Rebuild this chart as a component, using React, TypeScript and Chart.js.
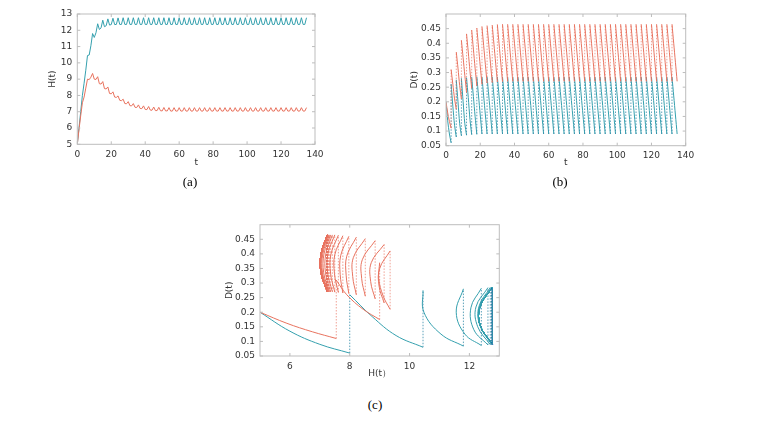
import { useEffect, useRef } from "react"
import { Chart, registerables } from "chart.js"

Chart.register(...registerables)

Chart.defaults.font.family = "DejaVu Sans"
Chart.defaults.font.size = 9
Chart.defaults.color = "#333"

const RED = "#e8735f"
const TEAL = "#35a0ae"
const RED_DOT = "rgba(232,115,95,0.75)"
const TEAL_DOT = "rgba(53,140,170,0.9)"

// impulse times (one dose every 3 time units)
const tImpulse = [
  0, 3, 6, 9, 12, 15, 18, 21, 24, 27, 30, 33, 36, 39, 42, 45, 48, 51, 54, 57, 60, 63, 66, 69,
  72, 75, 78, 81, 84, 87, 90, 93, 96, 99, 102, 105, 108, 111, 114, 117, 120, 123, 126, 129,
  132, 135,
]

// teal series. H at each dose time, then H one and two time units after each dose
const tealHImp = [
  5, 8.0, 10.45, 11.8, 12.4, 12.62, 12.7, 12.74, 12.76,
  12.77, 12.77, 12.77, 12.77, 12.77, 12.77, 12.77, 12.77, 12.77, 12.77,
  12.77, 12.77, 12.77, 12.77, 12.77, 12.77, 12.77, 12.77, 12.77, 12.77,
  12.77, 12.77, 12.77, 12.77, 12.77, 12.77, 12.77, 12.77, 12.77, 12.77,
  12.77, 12.77, 12.77, 12.77, 12.77, 12.77, 12.77,
]
const tealH1 = [
  6.0, 8.75, 10.48, 11.56, 12.05, 12.22, 12.32, 12.35,
  12.36, 12.36, 12.36, 12.36, 12.36, 12.36, 12.36, 12.36, 12.36, 12.36,
  12.36, 12.36, 12.36, 12.36, 12.36, 12.36, 12.36, 12.36, 12.36, 12.36,
  12.36, 12.36, 12.36, 12.36, 12.36, 12.36, 12.36, 12.36, 12.36, 12.36,
  12.36, 12.36, 12.36, 12.36, 12.36, 12.36, 12.36,
]
const tealH2 = [
  7.0, 9.55, 11.05, 11.85, 12.15, 12.28, 12.35, 12.36,
  12.36, 12.36, 12.36, 12.36, 12.36, 12.36, 12.36, 12.36, 12.36, 12.36,
  12.36, 12.36, 12.36, 12.36, 12.36, 12.36, 12.36, 12.36, 12.36, 12.36,
  12.36, 12.36, 12.36, 12.36, 12.36, 12.36, 12.36, 12.36, 12.36, 12.36,
  12.36, 12.36, 12.36, 12.36, 12.36, 12.36, 12.36,
]
// teal D: just after dose, one and two units later, just before next dose
const tealDHi = [
  0.2, 0.26, 0.275, 0.28, 0.282, 0.284,
  0.285, 0.285, 0.285, 0.285, 0.285, 0.285, 0.285, 0.285, 0.285, 0.285,
  0.285, 0.285, 0.285, 0.285, 0.285, 0.285, 0.285, 0.285, 0.285, 0.285,
  0.285, 0.285, 0.285, 0.285, 0.285, 0.285, 0.285, 0.285, 0.285, 0.285,
  0.285, 0.285, 0.285, 0.285, 0.285, 0.285, 0.285, 0.285, 0.285,
]
const tealD1 = [
  0.135, 0.185, 0.2, 0.2, 0.215, 0.218,
  0.22, 0.22, 0.22, 0.22, 0.22, 0.22, 0.22, 0.22, 0.22, 0.22,
  0.22, 0.22, 0.22, 0.22, 0.22, 0.22, 0.22, 0.22, 0.22, 0.22,
  0.22, 0.22, 0.22, 0.22, 0.22, 0.22, 0.22, 0.22, 0.22, 0.22,
  0.22, 0.22, 0.22, 0.22, 0.22, 0.22, 0.22, 0.22, 0.22,
]
const tealD2 = [
  0.09, 0.12, 0.125, 0.125, 0.14, 0.15,
  0.155, 0.155, 0.155, 0.155, 0.155, 0.155, 0.155, 0.155, 0.155, 0.155,
  0.155, 0.155, 0.155, 0.155, 0.155, 0.155, 0.155, 0.155, 0.155, 0.155,
  0.155, 0.155, 0.155, 0.155, 0.155, 0.155, 0.155, 0.155, 0.155, 0.155,
  0.155, 0.155, 0.155, 0.155, 0.155, 0.155, 0.155, 0.155, 0.155,
]
const tealDLo = [
  0.06, 0.08, 0.084, 0.086, 0.088, 0.089,
  0.09, 0.09, 0.09, 0.09, 0.09, 0.09, 0.09, 0.09, 0.09, 0.09,
  0.09, 0.09, 0.09, 0.09, 0.09, 0.09, 0.09, 0.09, 0.09, 0.09,
  0.09, 0.09, 0.09, 0.09, 0.09, 0.09, 0.09, 0.09, 0.09, 0.09,
  0.09, 0.09, 0.09, 0.09, 0.09, 0.09, 0.09, 0.09, 0.09,
]

// red series
const redHImp = [
  5, 7.55, 9.0, 9.35, 9.15, 8.85, 8.52, 8.22, 7.97, 7.77, 7.62, 7.5, 7.42, 7.36, 7.32, 7.29,
  7.27, 7.26,
  7.25, 7.25, 7.25, 7.25, 7.25, 7.25, 7.25, 7.25, 7.25, 7.25,
  7.25, 7.25, 7.25, 7.25, 7.25, 7.25, 7.25, 7.25, 7.25, 7.25,
  7.25, 7.25, 7.25, 7.25, 7.25, 7.25, 7.25, 7.25,
]
const redH1 = [
  5.9, 7.9, 8.97, 9.0, 8.72, 8.42, 8.12, 7.9, 7.7, 7.5, 7.37, 7.27, 7.2, 7.14, 7.1, 7.07,
  7.06, 7.05,
  7.04, 7.04, 7.04, 7.04, 7.04, 7.04, 7.04, 7.04, 7.04, 7.04,
  7.04, 7.04, 7.04, 7.04, 7.04, 7.04, 7.04, 7.04, 7.04, 7.04,
  7.04, 7.04, 7.04, 7.04, 7.04, 7.04, 7.04,
]
const redH2 = [
  6.75, 8.45, 9.12, 8.98, 8.7, 8.4, 8.1, 7.88, 7.68, 7.49, 7.36, 7.26, 7.19, 7.13, 7.09, 7.07,
  7.05, 7.05,
  7.04, 7.04, 7.04, 7.04, 7.04, 7.04, 7.04, 7.04, 7.04, 7.04,
  7.04, 7.04, 7.04, 7.04, 7.04, 7.04, 7.04, 7.04, 7.04, 7.04,
  7.04, 7.04, 7.04, 7.04, 7.04, 7.04, 7.04,
]
const redDHi = [
  0.2, 0.31, 0.37, 0.41, 0.432, 0.445, 0.452, 0.457, 0.46, 0.462, 0.464,
  0.465, 0.465, 0.465, 0.465, 0.465, 0.465, 0.465, 0.465, 0.465, 0.465,
  0.465, 0.465, 0.465, 0.465, 0.465, 0.465, 0.465, 0.465, 0.465, 0.465,
  0.465, 0.465, 0.465, 0.465, 0.465, 0.465, 0.465, 0.465, 0.465, 0.465,
  0.465, 0.465, 0.465, 0.465,
]
const redD1 = [
  0.162, 0.26, 0.315, 0.35, 0.37, 0.38, 0.387, 0.392, 0.395, 0.397, 0.398,
  0.4, 0.4, 0.4, 0.4, 0.4, 0.4, 0.4, 0.4, 0.4, 0.4,
  0.4, 0.4, 0.4, 0.4, 0.4, 0.4, 0.4, 0.4, 0.4, 0.4,
  0.4, 0.4, 0.4, 0.4, 0.4, 0.4, 0.4, 0.4, 0.4, 0.4,
  0.4, 0.4, 0.4, 0.4,
]
const redD2 = [
  0.133, 0.21, 0.255, 0.29, 0.305, 0.315, 0.322, 0.327, 0.33, 0.332, 0.333,
  0.335, 0.335, 0.335, 0.335, 0.335, 0.335, 0.335, 0.335, 0.335, 0.335,
  0.335, 0.335, 0.335, 0.335, 0.335, 0.335, 0.335, 0.335, 0.335, 0.335,
  0.335, 0.335, 0.335, 0.335, 0.335, 0.335, 0.335, 0.335, 0.335, 0.335,
  0.335, 0.335, 0.335, 0.335,
]
const redDLo = [
  0.11, 0.175, 0.21, 0.232, 0.246, 0.255, 0.26, 0.264, 0.266, 0.268, 0.269,
  0.27, 0.27, 0.27, 0.27, 0.27, 0.27, 0.27, 0.27, 0.27, 0.27,
  0.27, 0.27, 0.27, 0.27, 0.27, 0.27, 0.27, 0.27, 0.27, 0.27,
  0.27, 0.27, 0.27, 0.27, 0.27, 0.27, 0.27, 0.27, 0.27, 0.27,
  0.27, 0.27, 0.27, 0.27,
]

const timeTicks = [0, 20, 40, 60, 80, 100, 120, 140]
const hTicks = [5, 6, 7, 8, 9, 10, 11, 12, 13]
const dTicks = [0.05, 0.1, 0.15, 0.2, 0.25, 0.3, 0.35, 0.4, 0.45]
const phaseHTicks = [6, 8, 10, 12]

type Pt = { x: number; y: number | null }

// sample times inside period k: dose, +1/3, +2/3, next dose
const periodTimes = (k: number) => {
  const a = tImpulse[k]
  const b = tImpulse[k + 1]
  return [a, a + (b - a) / 3, a + (2 * (b - a)) / 3, b]
}

function hOverTime(hImp: number[], h1: number[], h2: number[]): Pt[] {
  const pts: Pt[] = []
  h1.forEach((_, k) => {
    const [a, m1, m2] = periodTimes(k)
    pts.push({ x: a, y: hImp[k] }, { x: m1, y: h1[k] }, { x: m2, y: h2[k] })
  })
  const last = h1.length
  pts.push({ x: tImpulse[last], y: hImp[last] })
  return pts
}

// decay pieces (solid) and dose jumps (dotted); xs = 4 x-values per period
function pieces(xs: (k: number) => number[], hi: number[], d1: number[], d2: number[], lo: number[]) {
  const solid: Pt[] = []
  const jumps: Pt[] = []
  hi.forEach((_, k) => {
    const [a, m1, m2, b] = xs(k)
    solid.push(
      { x: a, y: hi[k] },
      { x: m1, y: d1[k] },
      { x: m2, y: d2[k] },
      { x: b, y: lo[k] },
      { x: b, y: null }
    )
    if (k < hi.length - 1) {
      jumps.push({ x: b, y: lo[k] }, { x: b, y: hi[k + 1] }, { x: b, y: null })
    }
  })
  return { solid, jumps }
}

const boxPlugin = {
  id: "matlabBox",
  afterDraw(chart: any) {
    const { ctx, chartArea: a, scales } = chart
    ctx.save()
    ctx.strokeStyle = "#bdbdbd"
    ctx.lineWidth = 1
    ctx.strokeRect(a.left, a.top, a.right - a.left, a.bottom - a.top)
    ctx.beginPath()
    for (const t of scales.x.ticks) {
      const px = scales.x.getPixelForValue(t.value)
      ctx.moveTo(px, a.bottom)
      ctx.lineTo(px, a.bottom - 3)
      ctx.moveTo(px, a.top)
      ctx.lineTo(px, a.top + 3)
    }
    for (const t of scales.y.ticks) {
      const py = scales.y.getPixelForValue(t.value)
      ctx.moveTo(a.left, py)
      ctx.lineTo(a.left + 3, py)
      ctx.moveTo(a.right, py)
      ctx.lineTo(a.right - 3, py)
    }
    ctx.stroke()
    ctx.restore()
  },
}

type Frame = { w: number; h: number; l: number; t: number; r: number; b: number; yTitleX: number; xTitleY: number }

function makeOptions(
  f: Frame,
  xr: number[],
  yr: number[],
  xTicks: number[],
  yTicks: number[],
  xTitle: string,
  yTitle: string
): any {
  const half = 5.4
  const scaleLeft = f.yTitleX - half
  const scaleBottom = f.xTitleY + half
  return {
    animation: false,
    responsive: false,
    events: [],
    layout: { padding: { left: scaleLeft, top: f.t, right: f.w - f.r, bottom: f.h - scaleBottom } },
    plugins: { legend: { display: false }, tooltip: { enabled: false } },
    elements: { point: { radius: 0 }, line: { borderWidth: 1 } },
    scales: {
      x: {
        type: "linear",
        min: xr[0],
        max: xr[1],
        grid: { display: false, drawTicks: false },
        border: { display: false },
        ticks: { padding: 5, maxRotation: 0, callback: (v: number) => String(v) },
        afterBuildTicks: (s: any) => {
          s.ticks = xTicks.map((value) => ({ value }))
        },
        afterFit: (s: any) => {
          s.height = scaleBottom - f.b
        },
        title: { display: true, text: xTitle, padding: 0 },
      },
      y: {
        type: "linear",
        min: yr[0],
        max: yr[1],
        grid: { display: false, drawTicks: false },
        border: { display: false },
        ticks: { padding: 5, callback: (v: number) => String(v) },
        afterBuildTicks: (s: any) => {
          s.ticks = yTicks.map((value) => ({ value }))
        },
        afterFit: (s: any) => {
          s.width = f.l - scaleLeft
        },
        title: { display: true, text: yTitle, padding: 0 },
      },
    },
  }
}

const frameA: Frame = { w: 384, h: 200, l: 77.3, t: 14, r: 315, b: 144.3, yTitleX: 53, xTitleY: 163 }
const frameB: Frame = { w: 384, h: 200, l: 62, t: 14, r: 301.7, b: 145.7, yTitleX: 31, xTitleY: 163 }
const frameC: Frame = { w: 384, h: 190, l: 68, t: 19.7, r: 307.3, b: 151, yTitleX: 38, xTitleY: 169 }

function solidSet(data: Pt[], color: string, tension: number) {
  return { data, borderColor: color, borderWidth: 1, tension, fill: false, capBezierPoints: false }
}
function dotSet(data: Pt[], color: string) {
  return { data, borderColor: color, borderWidth: 0.9, borderDash: [1.5, 1.5], tension: 0, fill: false }
}

export default function App() {
  const refA = useRef<HTMLCanvasElement>(null)
  const refB = useRef<HTMLCanvasElement>(null)
  const refC = useRef<HTMLCanvasElement>(null)

  useEffect(() => {
    document.body.style.margin = "0"
    if (!refA.current || !refB.current || !refC.current) return

    const redB = pieces(periodTimes, redDHi, redD1, redD2, redDLo)
    const tealB = pieces(periodTimes, tealDHi, tealD1, tealD2, tealDLo)
    const redC = pieces(
      (k) => [redHImp[k], redH1[k], redH2[k], redHImp[k + 1]],
      redDHi, redD1, redD2, redDLo
    )
    const tealC = pieces(
      (k) => [tealHImp[k], tealH1[k], tealH2[k], tealHImp[k + 1]],
      tealDHi, tealD1, tealD2, tealDLo
    )

    const charts = [
      new Chart(refA.current, {
        type: "line",
        data: {
          datasets: [
            solidSet(hOverTime(redHImp, redH1, redH2), RED, 0),
            solidSet(hOverTime(tealHImp, tealH1, tealH2), TEAL, 0),
          ],
        },
        options: makeOptions(frameA, [0, 140], [5, 13], timeTicks, hTicks, "t", "H(t)"),
        plugins: [boxPlugin],
      } as any),
      new Chart(refB.current, {
        type: "line",
        data: {
          datasets: [
            dotSet(redB.jumps, RED_DOT),
            solidSet(redB.solid, RED, 0.3),
            dotSet(tealB.jumps, TEAL_DOT),
            solidSet(tealB.solid, TEAL, 0.3),
          ],
        },
        options: makeOptions(frameB, [0, 140], [0.05, 0.5], timeTicks, dTicks, "t", "D(t)"),
        plugins: [boxPlugin],
      } as any),
      new Chart(refC.current, {
        type: "line",
        data: {
          datasets: [
            dotSet(redC.jumps, RED_DOT),
            solidSet(redC.solid, RED, 0.4),
            dotSet(tealC.jumps, TEAL_DOT),
            solidSet(tealC.solid, TEAL, 0.4),
          ],
        },
        options: makeOptions(frameC, [5, 13], [0.05, 0.5], phaseHTicks, dTicks, "H(t）", "D(t)"),
        plugins: [boxPlugin],
      } as any),
    ]

    return () => {
      charts.forEach((c) => c.destroy())
    }
  }, [])

  const caption: React.CSSProperties = {
    position: "absolute",
    width: 40,
    textAlign: "center",
    fontFamily: "'Liberation Serif', serif",
    fontSize: 13,
    lineHeight: "16px",
    color: "#000",
  }

  return (
    <div style={{ position: "relative", width: 768, height: 421, background: "#fff", overflow: "hidden" }}>
      <canvas ref={refA} width={384} height={200} style={{ position: "absolute", left: 0, top: 0, width: 384, height: 200 }} />
      <canvas ref={refB} width={384} height={200} style={{ position: "absolute", left: 384, top: 0, width: 384, height: 200 }} />
      <canvas ref={refC} width={384} height={190} style={{ position: "absolute", left: 192, top: 205, width: 384, height: 190 }} />
      <div style={{ ...caption, left: 170, top: 174 }}>(a)</div>
      <div style={{ ...caption, left: 540, top: 174 }}>(b)</div>
      <div style={{ ...caption, left: 355, top: 397 }}>(c)</div>
    </div>
  )
}
